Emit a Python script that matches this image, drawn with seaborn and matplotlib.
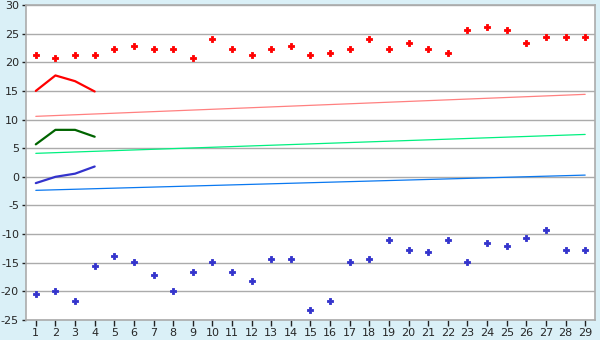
import matplotlib
matplotlib.use("Agg")
import matplotlib.pyplot as plt
import seaborn as sns
import pandas as pd
import numpy as np

days = list(range(1, 30))
red_points = [21.2, 20.7, 21.2, 21.2, 22.3, 22.8, 22.3, 22.3, 20.7, 24.0,
              22.3, 21.2, 22.3, 22.8, 21.2, 21.7, 22.3, 24.0, 22.3, 23.3,
              22.3, 21.7, 25.6, 26.1, 25.6, 23.3, 24.35, 24.35, 24.35]
blue_points = [-20.5, -20.0, -21.7, -15.6, -13.9, -14.9, -17.2, -20.0, -16.7, -14.9,
               -16.7, -18.25, -14.4, -14.4, -23.3, -21.7, -14.9, -14.4, -11.1, -12.8,
               -13.2, -11.1, -14.9, -11.6, -12.1, -10.6, -9.35, -12.8, -12.8]

short_x = [1, 2, 3, 4]
red_line = [15.0, 17.7, 16.7, 14.9]
green_line = [5.67, 8.2, 8.2, 7.0]
blue_line = [-1.1, 0.0, 0.55, 1.8]

trend_x = [1, 29]
pink_trend = [10.56, 14.4]
lgreen_trend = [4.1, 7.4]
lblue_trend = [-2.36, 0.3]

yticks = list(range(-25, 31, 5))

sns.set_style("white")
plt.rcParams['font.family'] = ['DejaVu Sans']

fig = plt.figure(figsize=(6, 3.4), dpi=100, facecolor="#DAF0F7")
ax = fig.add_axes([26/600, 1-320/340, (595-26)/600, (320-5)/340])
ax.set_facecolor("white")

for y in yticks:
    ax.axhline(y, color="#ABABAB", lw=1.0, zorder=0)

sns.lineplot(x=trend_x, y=pink_trend, ax=ax, color="#FF8080", lw=0.9, zorder=2)
sns.lineplot(x=trend_x, y=lgreen_trend, ax=ax, color="#00F080", lw=0.9, zorder=2)
sns.lineplot(x=trend_x, y=lblue_trend, ax=ax, color="#0A78F0", lw=0.9, zorder=2)

sns.lineplot(x=short_x, y=red_line, ax=ax, color="#FF0000", lw=1.6, zorder=3)
sns.lineplot(x=short_x, y=green_line, ax=ax, color="#006400", lw=1.6, zorder=3)
sns.lineplot(x=short_x, y=blue_line, ax=ax, color="#3333CC", lw=1.6, zorder=3)

sns.scatterplot(x=days, y=red_points, ax=ax, color="#FF0000", marker="P", s=18,
                edgecolor="#FF0000", linewidth=0.6, zorder=4)
sns.scatterplot(x=days, y=blue_points, ax=ax, color="#3333CC", marker="P", s=18,
                edgecolor="#3333CC", linewidth=0.6, zorder=4)

ax.set_xlim(0.5, 29.5)
ax.set_ylim(-25, 30)
ax.set_xticks(days)
ax.set_xticklabels([str(d) for d in days])
ax.set_yticks(yticks)
ax.set_yticklabels([str(y) for y in yticks])
ax.tick_params(axis="x", length=4, width=1, color="#222222", labelsize=8, pad=2, direction="out", bottom=True)
ax.tick_params(axis="y", length=3, width=1, color="#222222", labelsize=8, pad=2, direction="out", left=True)
for side in ["top", "right", "left", "bottom"]:
    ax.spines[side].set_visible(True)
    ax.spines[side].set_color("#ABABAB")
    ax.spines[side].set_linewidth(1.2)
ax.grid(False)

fig.savefig("out.png", dpi=100, facecolor=fig.get_facecolor())
